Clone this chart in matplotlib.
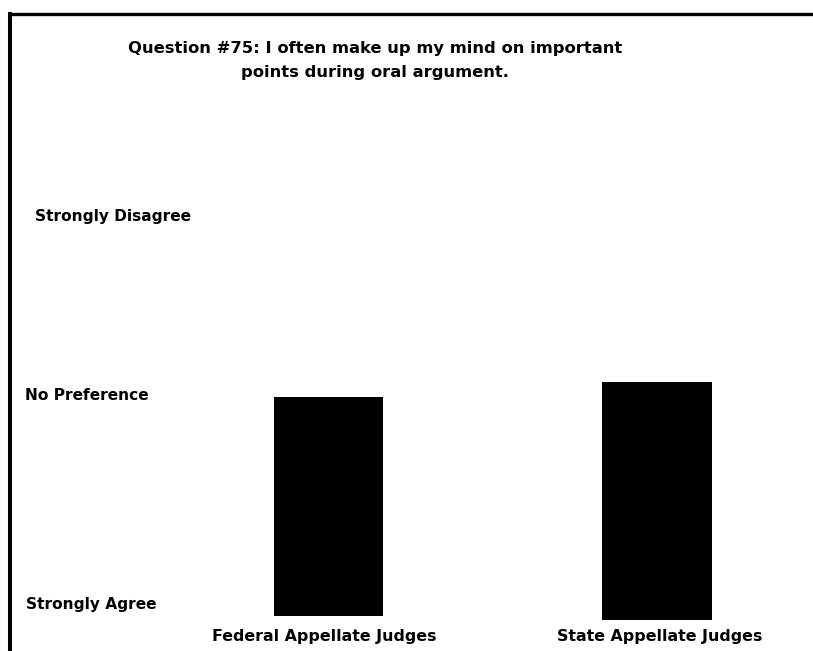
import numpy as np
import matplotlib
matplotlib.use("Agg")
import matplotlib.pyplot as plt
from matplotlib.lines import Line2D

# Mean response on a 1 (Strongly Agree) .. 5 (Strongly Disagree) scale
groups = ["Federal Appellate Judges", "State Appellate Judges"]
bar_tops = [2.98, 3.12]
bar_bottoms = [1.02, 0.98]
scale_labels = ["Strongly Disagree", "No Preference", "Strongly Agree"]
title = "Question #75: I often make up my mind on important\npoints during oral argument."

W, H = 813, 651
fig = plt.figure(figsize=(W / 100, H / 100), dpi=100)
plt.rcParams["font.family"] = ["DejaVu Sans"]

# axes: value 1 sits at y=618 px, 111.5 px per scale point
px_unit = 111.5
base_px = 618
ax = fig.add_axes([0, (H - base_px) / H, 1, 4 * px_unit / H])
ax.set_ylim(1, 5)
ax.set_xlim(-1.0, 1.475)
x = np.arange(len(groups))
heights = np.array(bar_tops) - np.array(bar_bottoms)
ax.bar(x, heights, bottom=bar_bottoms, width=0.334, color="black", clip_on=False)
ax.axis("off")

# scale labels placed to the left
label_pos = [(35, 216), (25, 395), (26, 604)]
for lab, (lx, ly) in zip(scale_labels, label_pos):
    fig.text(lx / W, 1 - ly / H, lab, fontsize=11.1, fontweight="bold",
             ha="left", va="center")

# group labels under bars
for xi, g in zip(x, groups):
    xp = ax.transData.transform((xi, 1))[0] / W
    fig.text(xp - 0.005 if xi == 0 else xp + 0.003, 1 - 637 / H, g,
             fontsize=11.4, fontweight="bold", ha="center", va="center")

fig.text(375 / W, 1 - 60 / H, title, fontsize=11.8, fontweight="bold",
         ha="center", va="center", linespacing=1.75)

# frame lines on top and left
fig.add_artist(Line2D([10 / W, 1], [1 - 13.5 / H, 1 - 13.5 / H], color="black",
                      lw=2.4, transform=fig.transFigure, solid_capstyle="projecting"))
fig.add_artist(Line2D([10 / W, 10 / W], [0, 1 - 13.5 / H], color="black",
                      lw=2.9, transform=fig.transFigure, solid_capstyle="projecting"))

fig.savefig("out.png", dpi=100)
